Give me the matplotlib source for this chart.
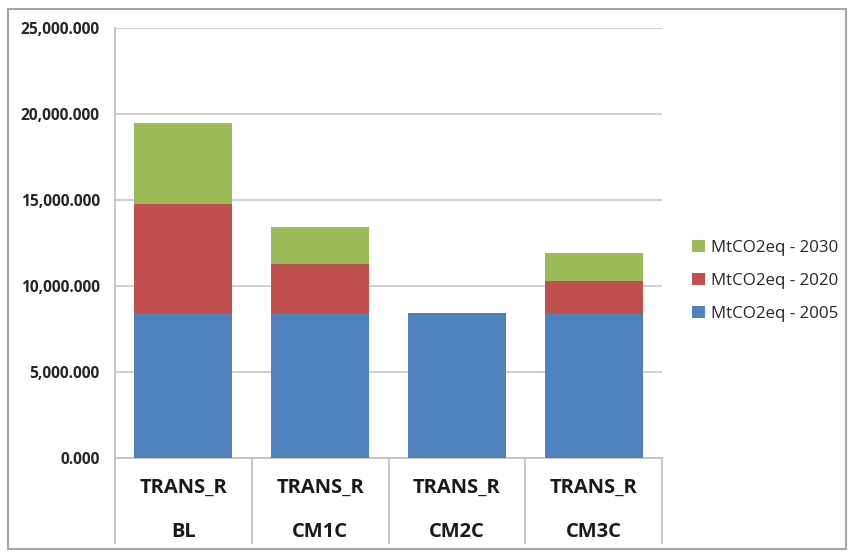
import matplotlib
matplotlib.use("Agg")
import matplotlib.pyplot as plt
import matplotlib.patches as mpatches
from matplotlib.ticker import FuncFormatter
import numpy as np

# scenario labels (two rows under each bar)
sectors = ["TRANS_R", "TRANS_R", "TRANS_R", "TRANS_R"]
scenarios = ["BL", "CM1C", "CM2C", "CM3C"]

# emissions per year, stacked
mt_2005 = [8440, 8440, 8440, 8440]
mt_2020 = [6300, 2850, 0, 1870]
mt_2030 = [4760, 2140, 0, 1590]

series_names = ["MtCO2eq - 2005", "MtCO2eq - 2020", "MtCO2eq - 2030"]
colors = ["#4F81BD", "#C0504D", "#9BBB59"]
yticks = [0, 5000, 10000, 15000, 20000, 25000]

plt.rcParams["font.family"] = ["Open Sans", "DejaVu Sans"]

fig = plt.figure(figsize=(8.48, 5.52), dpi=100)
ax = fig.add_axes([115 / 848, 94 / 552, 547 / 848, 430 / 552])

x = np.arange(len(scenarios))
width = 0.715
bottom = np.zeros(len(x))
for vals, color, name in zip([mt_2005, mt_2020, mt_2030], colors, series_names):
    ax.bar(x, vals, width, bottom=bottom, color=color, label=name, zorder=3)
    bottom += np.array(vals)

ax.set_xlim(-0.5, len(x) - 0.5)
ax.set_ylim(0, 25000)
ax.set_yticks(yticks)
ax.yaxis.set_major_formatter(FuncFormatter(lambda v, p: f"{v:,.3f}"))
ax.tick_params(axis="y", length=0, pad=11, labelsize=11.2, labelcolor="#262626")
for lbl in ax.get_yticklabels():
    lbl.set_fontweight("bold")
ax.set_xticks([])
ax.grid(axis="y", color="#C8C8C8", linewidth=1.2, zorder=0)

for side in ["top", "right"]:
    ax.spines[side].set_visible(False)
for side in ["left", "bottom"]:
    ax.spines[side].set_color("#BEBEBE")
    ax.spines[side].set_linewidth(1.2)

# category separators running down through the label rows
trans = ax.get_xaxis_transform()
for sep in np.arange(-0.5, len(x), 1.0):
    ax.plot([sep, sep], [0, -85 / 430], transform=trans, color="#BEBEBE",
            linewidth=1.2, clip_on=False)

for i in x:
    ax.text(i, -30 / 430, sectors[i], transform=trans, ha="center", va="center",
            fontsize=14.5, fontweight="bold", color="#1a1a1a")
    ax.text(i, -74 / 430, scenarios[i], transform=trans, ha="center", va="center",
            fontsize=14.5, fontweight="bold", color="#1a1a1a")

handles, labels = ax.get_legend_handles_labels()
fig.legend(handles[::-1], labels[::-1], loc="center left",
           bbox_to_anchor=(677 / 848, 1 - 281 / 552), frameon=False,
           fontsize=12.2, handlelength=0.75, handleheight=0.75,
           handletextpad=0.35, labelspacing=1.0, labelcolor="#262626")

# outer chart border
fig.patches.append(mpatches.Rectangle((8 / 848, 3 / 552), 838 / 848, 540 / 552,
                                      transform=fig.transFigure, fill=False,
                                      edgecolor="#A6A6A6", linewidth=1.5))

fig.savefig("out.png", dpi=100)
